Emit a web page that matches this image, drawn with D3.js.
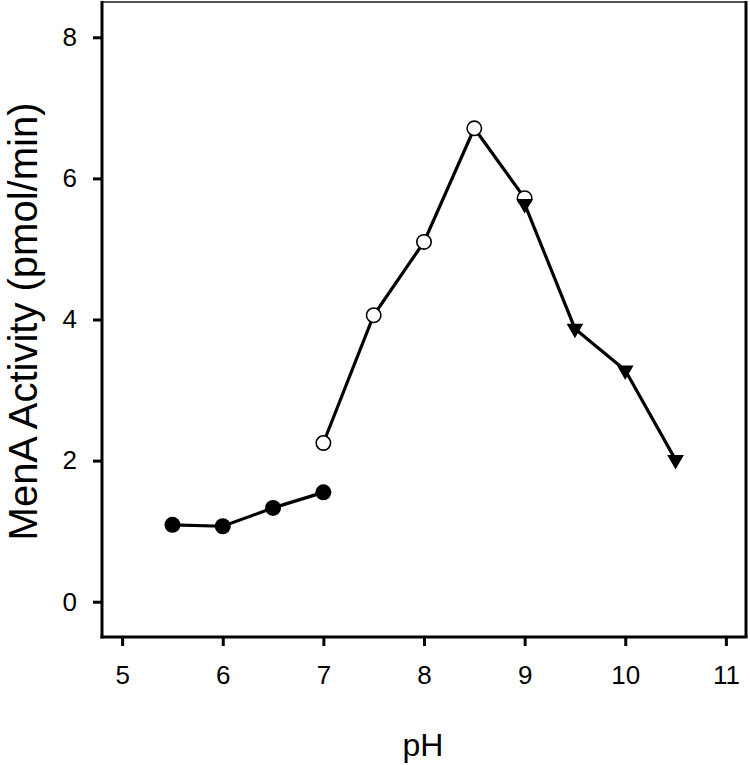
<!DOCTYPE html>
<html><head><meta charset="utf-8">
<script src="https://cdn.jsdelivr.net/npm/d3@7"></script>
<style>body{margin:0;background:#fff}svg{display:block}text{font-family:"Liberation Sans",Arial,sans-serif;fill:#000}</style>
</head><body>
<script>
const phLow = [5.5, 6.0, 6.5, 7.0];
const activityLow = [1.09, 1.07, 1.33, 1.55];
const phMid = [7.0, 7.5, 8.0, 8.5, 9.0];
const activityMid = [2.25, 4.06, 5.10, 6.71, 5.72];
const phHigh = [9.0, 9.5, 10.0, 10.5];
const activityHigh = [5.64, 3.87, 3.28, 2.01];
const xTicks = [5, 6, 7, 8, 9, 10, 11];
const yTicks = [0, 2, 4, 6, 8];
const xLabel = "pH";
const yLabel = "MenA Activity (pmol/min)";

const W = 750, H = 765;
const L = 102, R = 746, T = 2, B = 637;
const svg = d3.select("body").append("svg").attr("width", W).attr("height", H);
const x = d3.scaleLinear().domain([4.8, 11.2]).range([L, R]);
const y = d3.scaleLinear().domain([-0.5, 8.5]).range([B, T]);

// frame
svg.append("line").attr("x1", L).attr("x2", R).attr("y1", T).attr("y2", T).attr("stroke", "#555").attr("stroke-width", 2);
svg.append("line").attr("x1", R).attr("x2", R).attr("y1", T - 1).attr("y2", B).attr("stroke", "#000").attr("stroke-width", 3);

const xAxis = svg.append("g").attr("transform", `translate(0,${B})`)
  .call(d3.axisBottom(x).tickValues(xTicks).tickSize(9).tickPadding(20).tickFormat(d3.format("d")));
const yAxis = svg.append("g").attr("transform", `translate(${L},0)`)
  .call(d3.axisLeft(y).tickValues(yTicks).tickSize(9).tickPadding(16).tickFormat(d3.format("d")));
[xAxis, yAxis].forEach(g => {
  g.attr("font-size", 26).attr("font-family", "'Liberation Sans', Arial, sans-serif");
  g.select(".domain").attr("stroke", "#000").attr("stroke-width", 3);
  g.selectAll(".tick line").attr("stroke", "#000").attr("stroke-width", 3);
  g.selectAll(".tick text").style("font-size", "26px");
});
xAxis.select(".domain").attr("d", `M${L - 1.5},0H${R + 1.5}`);
yAxis.select(".domain").attr("d", `M0,${T - 1}V${B + 1.5}`);

svg.append("text").attr("x", 423).attr("y", 756).attr("text-anchor", "middle")
  .style("font-size", "32px").text(xLabel);
svg.append("text").attr("transform", `translate(37,${y(4) + 2}) rotate(-90)`).attr("text-anchor", "middle")
  .style("font-size", "40px").text(yLabel);

const line = d3.line().x(d => x(d[0])).y(d => y(d[1]));
const low = phLow.map((p, i) => [p, activityLow[i]]);
const mid = phMid.map((p, i) => [p, activityMid[i]]);
const high = phHigh.map((p, i) => [p, activityHigh[i]]);
[low, mid, high].forEach(s => svg.append("path").datum(s).attr("d", line)
  .attr("fill", "none").attr("stroke", "#000").attr("stroke-width", 3.2));

svg.selectAll(".low").data(low).enter().append("circle")
  .attr("cx", d => x(d[0])).attr("cy", d => y(d[1])).attr("r", 8).attr("fill", "#000");
svg.selectAll(".mid").data(mid).enter().append("circle")
  .attr("cx", d => x(d[0])).attr("cy", d => y(d[1])).attr("r", 7.2).attr("fill", "#fff").attr("stroke", "#000").attr("stroke-width", 1.6);
const tri = d3.symbol().type(d3.symbolTriangle).size(120);
svg.selectAll(".high").data(high).enter().append("path")
  .attr("d", tri).attr("transform", d => `translate(${x(d[0])},${y(d[1])}) rotate(180)`).attr("fill", "#000");
</script>
</body></html>
